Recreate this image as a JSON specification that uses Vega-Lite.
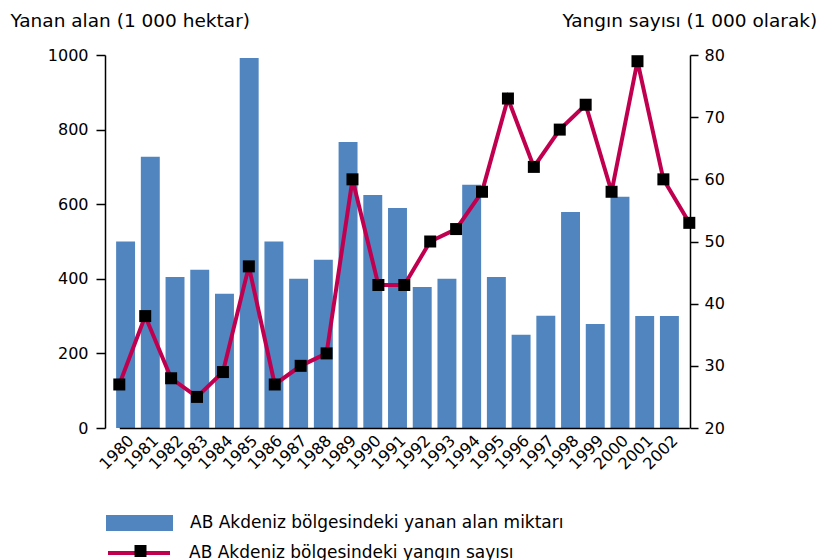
{
  "$schema": "https://vega.github.io/schema/vega-lite/v6.json",
  "width": 585,
  "height": 373,
  "autosize": {"type": "none"},
  "padding": {"left": 105, "top": 55, "right": 129, "bottom": 132},
  "background": "white",
  "config": {
    "view": {"stroke": null},
    "font": "DejaVu Sans",
    "axis": {"grid": false, "domainColor": "black", "tickColor": "black", "labelColor": "black", "titleColor": "black", "titleFontWeight": "normal", "labelFont": "DejaVu Sans", "titleFont": "DejaVu Sans"},
    "legend": {"orient": "none", "title": null, "padding": 0, "labelFontSize": 17, "labelFont": "DejaVu Sans", "labelColor": "black", "labelLimit": 0}
  },
  "data": {
    "values": [
      {"year": 1980, "area": 500, "fires": 27},
      {"year": 1981, "area": 727, "fires": 38},
      {"year": 1982, "area": 405, "fires": 28},
      {"year": 1983, "area": 424, "fires": 25},
      {"year": 1984, "area": 360, "fires": 29},
      {"year": 1985, "area": 992, "fires": 46},
      {"year": 1986, "area": 500, "fires": 27},
      {"year": 1987, "area": 400, "fires": 30},
      {"year": 1988, "area": 451, "fires": 32},
      {"year": 1989, "area": 767, "fires": 60},
      {"year": 1990, "area": 625, "fires": 43},
      {"year": 1991, "area": 590, "fires": 43},
      {"year": 1992, "area": 378, "fires": 50},
      {"year": 1993, "area": 400, "fires": 52},
      {"year": 1994, "area": 652, "fires": 58},
      {"year": 1995, "area": 405, "fires": 73},
      {"year": 1996, "area": 250, "fires": 62},
      {"year": 1997, "area": 301, "fires": 68},
      {"year": 1998, "area": 579, "fires": 72},
      {"year": 1999, "area": 279, "fires": 58},
      {"year": 2000, "area": 620, "fires": 79},
      {"year": 2001, "area": 300, "fires": 60},
      {"year": 2002, "area": 300, "fires": 53}
    ]
  },
  "layer": [
    {
      "mark": {"type": "bar"},
      "encoding": {
        "x": {"field": "year", "type": "ordinal", "scale": {"paddingInner": 0.234, "paddingOuter": 0.45},
          "axis": {"orient": "bottom", "domain": false, "ticks": false, "labelAngle": -45, "labelFontSize": 16, "labelPadding": 4, "title": null}},
        "y": {"field": "area", "type": "quantitative", "scale": {"domain": [0, 1000]},
          "axis": {"orient": "left", "values": [0, 200, 400, 600, 800, 1000], "format": "d", "tickSize": 9, "labelPadding": 8, "labelFontSize": 16, "domainWidth": 1.5, "tickWidth": 1.5,
            "title": "Yanan alan (1 000 hektar)", "titleAngle": 0, "titleAlign": "left", "titleBaseline": "alphabetic", "titleX": -95, "titleY": -28.5, "titleFontSize": 18.5}},
        "color": {"datum": "AB Akdeniz bölgesindeki yanan alan miktarı", "scale": {"range": ["#5085bf"]},
          "legend": {"legendX": 1, "legendY": 434.5, "symbolType": "M-1,-0.24H1V0.24H-1Z", "symbolSize": 4489, "symbolStrokeWidth": 0, "labelOffset": 17}}
      }
    },
    {
      "encoding": {
        "x": {"field": "year", "type": "quantitative", "scale": {"domain": [1980, 2002], "range": [14.3, 584.3], "nice": false, "zero": false},
          "axis": {"orient": "bottom", "labels": false, "ticks": false, "title": null, "domainWidth": 1.5, "zindex": 1}},
        "y": {"field": "fires", "type": "quantitative", "scale": {"domain": [20, 80]},
          "axis": {"orient": "right", "values": [20, 30, 40, 50, 60, 70, 80], "tickSize": 8, "labelPadding": 6, "labelFontSize": 16, "domainWidth": 1.5, "tickWidth": 1.5,
            "title": "Yangın sayısı (1 000 olarak)", "titleAngle": 0, "titleAlign": "right", "titleBaseline": "alphabetic", "titleX": 126.7, "titleY": -28.5, "titleFontSize": 18.5}}
      },
      "layer": [
        {
          "mark": {"type": "line", "strokeWidth": 4},
          "encoding": {
            "stroke": {"datum": "AB Akdeniz bölgesindeki yangın sayısı", "scale": {"range": ["#c0004f"]},
              "legend": {"legendX": 1, "legendY": 465, "symbolType": "stroke", "symbolSize": 3844, "symbolStrokeWidth": 4, "labelOffset": 17}}
          }
        },
        {
          "mark": {"type": "point", "filled": true, "color": "black", "opacity": 1, "size": 144},
          "encoding": {
            "shape": {"datum": "marker", "scale": {"range": ["square"]},
              "legend": {"legendX": 27, "legendY": 487.5, "symbolSize": 144, "symbolFillColor": "black", "symbolStrokeWidth": 0, "labelExpr": "''"}}
          }
        }
      ]
    }
  ],
  "resolve": {"scale": {"x": "independent", "y": "independent"}}
}
